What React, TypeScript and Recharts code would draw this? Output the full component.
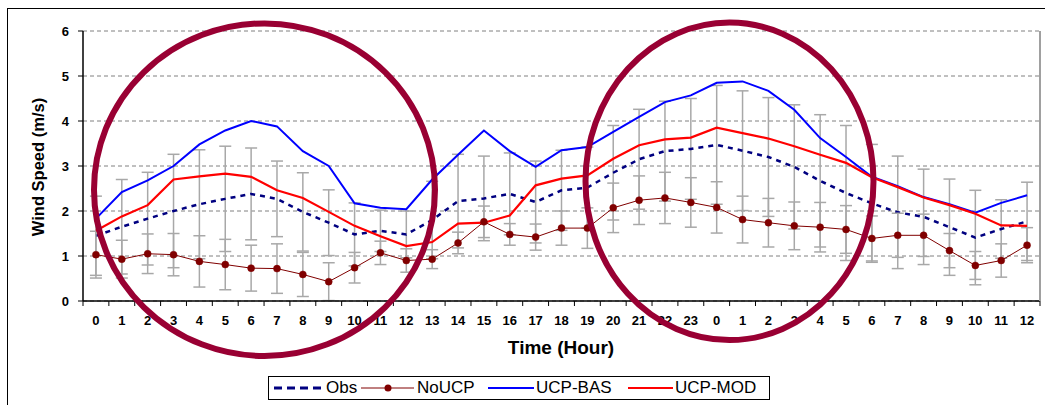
// Wind speed diurnal comparison: Obs vs NoUCP / UCP-BAS / UCP-MOD with error bars.
// Two ellipses highlight the daytime periods, drawn as a plain SVG overlay.
import React from 'react';
import { LineChart, Line, XAxis, YAxis, CartesianGrid, ErrorBar } from 'recharts';

const HOURS = [
  0, 1, 2, 3, 4, 5, 6, 7, 8, 9, 10, 11, 12, 13, 14, 15, 16, 17, 18, 19, 20, 21, 22, 23,
  0, 1, 2, 3, 4, 5, 6, 7, 8, 9, 10, 11, 12,
];

const OBS = [
  1.45, 1.65, 1.83, 2.0, 2.15, 2.27, 2.38, 2.27, 1.98, 1.74, 1.48, 1.56, 1.48, 1.8, 2.22, 2.28, 2.38, 2.2, 2.46,
  2.52, 2.85, 3.15, 3.33, 3.38, 3.47, 3.34, 3.2, 2.98, 2.67, 2.4, 2.17, 1.97, 1.87, 1.64, 1.41, 1.6, 1.77,
];
const OBS_ERR = [
  0.88, 1.05, 1.03, 1.26, 1.21, 1.17, 1.02, 0.84, 0.87, 0.73, 0.7, 0.46, 0.52, 0.86, 1.04, 0.94, 0.91, 0.91, 0.89,
  0.9, 1.05, 1.11, 1.11, 1.12, 1.32, 1.33, 1.32, 1.38, 1.47, 1.5, 1.31, 1.25, 1.06, 1.07, 1.05, 0.65, 0.87,
];
const NOUCP = [
  1.03, 0.93, 1.05, 1.03, 0.88, 0.81, 0.73, 0.72, 0.59, 0.43, 0.74, 1.07, 0.9, 0.93, 1.29, 1.76, 1.48, 1.42, 1.62,
  1.62, 2.07, 2.24, 2.29, 2.19, 2.08, 1.81, 1.74, 1.67, 1.64, 1.59, 1.39, 1.46, 1.46, 1.12, 0.79, 0.9, 1.24,
];
const NOUCP_ERR = [
  0.52, 0.42, 0.44, 0.47, 0.57, 0.56, 0.51, 0.55, 0.49, 0.42, 0.34, 0.26, 0.26, 0.21, 0.24, 0.35, 0.24, 0.29, 0.38,
  0.45, 0.55, 0.54, 0.57, 0.55, 0.57, 0.52, 0.54, 0.53, 0.55, 0.53, 0.5, 0.49, 0.47, 0.38, 0.31, 0.37, 0.39,
];
const UCP_BAS = [
  1.83, 2.42, 2.68, 3.0, 3.48, 3.79, 4.0, 3.88, 3.33, 3.0, 2.17, 2.07, 2.04, 2.7, 3.25, 3.79, 3.33, 2.98, 3.35,
  3.42, 3.76, 4.09, 4.42, 4.57, 4.85, 4.88, 4.67, 4.25, 3.62, 3.2, 2.76, 2.55, 2.31, 2.15, 1.96, 2.18, 2.35,
];
const UCP_MOD = [
  1.56, 1.88, 2.13, 2.7, 2.77, 2.83, 2.76, 2.46, 2.29, 1.98, 1.67, 1.44, 1.22, 1.31, 1.72, 1.74, 1.9, 2.57, 2.72,
  2.79, 3.16, 3.46, 3.59, 3.63, 3.85, 3.73, 3.61, 3.44, 3.25, 3.07, 2.75, 2.53, 2.3, 2.13, 1.94, 1.68, 1.67,
];
const Y_TICKS = [0, 1, 2, 3, 4, 5, 6];

const data = HOURS.map((h, i) => ({
  idx: i,
  hour: h,
  obs: OBS[i],
  obsErr: OBS_ERR[i],
  noucp: NOUCP[i],
  noucpErr: NOUCP_ERR[i],
  bas: UCP_BAS[i],
  mod: UCP_MOD[i],
}));

const FONT = '"Liberation Sans", Arial, sans-serif';
const W = 1045;
const H = 405;
const PLOT_BOTTOM = 301;
const ERR_COLOR = '#a8a8a8';

// Excel-style category axis: tick marks sit between categories, label centred
const HourTick = (props: any) => {
  const { x, payload, index } = props;
  const half = payload && typeof payload.offset === 'number' && payload.offset > 0 ? payload.offset : 12.94;
  const last = index === HOURS.length - 1;
  return (
    <g>
      <line x1={x - half} x2={x - half} y1={PLOT_BOTTOM} y2={PLOT_BOTTOM + 5} stroke="#000" strokeWidth={1} />
      {last && <line x1={x + half} x2={x + half} y1={PLOT_BOTTOM} y2={PLOT_BOTTOM + 5} stroke="#000" strokeWidth={1} />}
      <text x={x} y={325} textAnchor="middle" fontFamily={FONT} fontSize={13} fontWeight={700} fill="#000">
        {HOURS[payload.value]}
      </text>
    </g>
  );
};

const LegendBox: React.FC = () => (
  <div
    style={{
      position: 'absolute', left: 268, top: 376, width: 500, height: 22,
      border: '1px solid #000', background: '#fff', fontFamily: FONT, fontSize: 17, color: '#000',
    }}
  >
    <svg width={500} height={22} style={{ position: 'absolute', left: 0, top: 0 }}>
      <line x1={5} x2={54} y1={11} y2={11} stroke="#000080" strokeWidth={3} strokeDasharray="8 5" />
      <line x1={92} x2={145} y1={11} y2={11} stroke="#800000" strokeWidth={1} />
      <circle cx={119} cy={11} r={3.5} fill="#800000" />
      <line x1={219} x2={265} y1={11} y2={11} stroke="#0000ff" strokeWidth={2} />
      <line x1={359} x2={404} y1={11} y2={11} stroke="#ff0000" strokeWidth={2} />
    </svg>
    <span style={{ position: 'absolute', left: 57, top: 1 }}>Obs</span>
    <span style={{ position: 'absolute', left: 148, top: 1 }}>NoUCP</span>
    <span style={{ position: 'absolute', left: 267, top: 1 }}>UCP-BAS</span>
    <span style={{ position: 'absolute', left: 406, top: 1 }}>UCP-MOD</span>
  </div>
);

export default function App() {
  return (
    <div style={{ position: 'absolute', left: 0, top: 0, width: W, height: H, background: '#fff', overflow: 'hidden' }}>
      {/* outer chart frame */}
      <div style={{ position: 'absolute', left: 7, top: 8, width: W, height: H, borderTop: '1.5px solid #000', borderLeft: '1.5px solid #000' }} />
      <LineChart width={W} height={H} data={data} margin={{ top: 31, right: 4, bottom: 74, left: 0 }}>
        <CartesianGrid vertical={false} stroke="#808080" strokeDasharray="4 3" />
        <XAxis
          dataKey="idx"
          type="category"
          scale="band"
          interval={0}
          height={30}
          tickLine={false}
          tickSize={5}
          tickMargin={0}
          axisLine={{ stroke: '#000', strokeWidth: 1.5 }}
          tick={<HourTick />}
        />
        <YAxis
          domain={[0, 6]}
          ticks={Y_TICKS}
          width={83}
          tickSize={5}
          tickMargin={9}
          axisLine={{ stroke: '#000', strokeWidth: 1.5 }}
          tickLine={{ stroke: '#000' }}
          tick={{ fontFamily: FONT, fontSize: 13, fontWeight: 700, fill: '#000' }}
        />
        <YAxis
          yAxisId="right"
          orientation="right"
          domain={[0, 6]}
          width={1}
          tick={false}
          tickLine={false}
          axisLine={{ stroke: '#a0a0a0', strokeWidth: 2 }}
        />
        <Line dataKey="obs" stroke="#000080" strokeWidth={2.5} strokeDasharray="5 5" dot={false} isAnimationActive={false}>
          <ErrorBar dataKey="obsErr" direction="y" width={6} stroke={ERR_COLOR} strokeWidth={1.5} isAnimationActive={false} />
        </Line>
        <Line
          dataKey="noucp"
          stroke="#800000"
          strokeWidth={1}
          dot={{ r: 3.5, fill: '#800000', stroke: '#800000', strokeWidth: 0.5 }}
          isAnimationActive={false}
        >
          <ErrorBar dataKey="noucpErr" direction="y" width={6} stroke={ERR_COLOR} strokeWidth={1.5} isAnimationActive={false} />
        </Line>
        <Line dataKey="bas" stroke="#0000ff" strokeWidth={2} dot={false} isAnimationActive={false} />
        <Line dataKey="mod" stroke="#ff0000" strokeWidth={2.2} dot={false} isAnimationActive={false} />
      </LineChart>

      {/* axis titles */}
      <div
        style={{
          position: 'absolute', left: 38, top: 167, transform: 'translate(-50%, -50%) rotate(-90deg)',
          fontFamily: FONT, fontSize: 16.5, fontWeight: 700, whiteSpace: 'nowrap',
        }}
      >
        Wind Speed (m/s)
      </div>
      <div
        style={{
          position: 'absolute', left: 561, top: 348, transform: 'translate(-50%, -50%)',
          fontFamily: FONT, fontSize: 19, fontWeight: 700, whiteSpace: 'nowrap',
        }}
      >
        Time (Hour)
      </div>

      <LegendBox />

      {/* highlight ellipses */}
      <svg width={W} height={H} style={{ position: 'absolute', left: 0, top: 0, pointerEvents: 'none' }}>
        <ellipse cx={264.5} cy={189.7} rx={170.5} ry={166.3} fill="none" stroke="#990033" strokeWidth={6} />
        <ellipse cx={729.5} cy={181.3} rx={144} ry={158.8} fill="none" stroke="#990033" strokeWidth={6} />
      </svg>
    </div>
  );
}
